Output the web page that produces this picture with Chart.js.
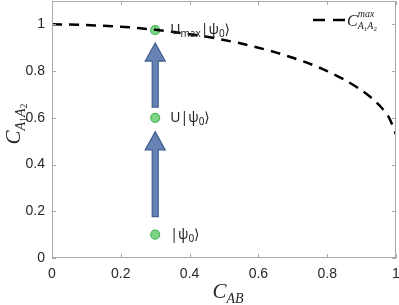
<!DOCTYPE html>
<html>
<head>
<meta charset="utf-8">
<script src="https://cdn.jsdelivr.net/npm/chart.js@4.4.0/dist/chart.umd.min.js"></script>
<style>
  html, body { margin: 0; padding: 0; background: #fff; }
  #wrap { width: 399px; height: 305px; }
</style>
</head>
<body>
<div id="wrap"><canvas id="chart"></canvas></div>
<script>
'use strict';

// dashed curve C_A1A2^max against C_AB
const curveX = [0, 0.05, 0.1, 0.15, 0.2, 0.25, 0.3, 0.35, 0.4, 0.45, 0.5, 0.55, 0.6, 0.65, 0.7, 0.75, 0.8, 0.85, 0.9, 0.93, 0.96, 0.98, 1.0];
const curveY = [1.0, 0.999, 0.997, 0.994, 0.99, 0.984, 0.977, 0.968, 0.958, 0.947, 0.933, 0.918, 0.9, 0.88, 0.857, 0.831, 0.8, 0.763, 0.718, 0.684, 0.64, 0.6, 0.53];

// the three states
const stateX = [0.3, 0.3, 0.3];
const stateY = [0.1, 0.6, 0.975];
const stateLabels = ['|ψ_{0}⟩', 'U|ψ_{0}⟩', 'U_{max}|ψ_{0}⟩'];

// arrows between states
const arrowX = [0.3, 0.3];
const arrowFrom = [0.177, 0.646];
const arrowTo = [0.54, 0.92];

const xTicks = [0, 0.2, 0.4, 0.6, 0.8, 1];
const yTicks = [0, 0.2, 0.4, 0.6, 0.8, 1];

const textColor = '#262626';
const boxColor = '#a8a8a8';
const serif = '"Liberation Serif", "DejaVu Serif", serif';
const sans = '"Noto Sans", "DejaVu Sans", sans-serif';

let canvasElem = document.getElementById('chart');

// draw pieces [text, size, shift, italic]; returns width
function drawPieces(ctx, pieces, x, y, family, measureOnly) {
  let cx = x;
  for (const p of pieces) {
    ctx.font = (p[3] ? 'italic ' : '') + p[1] + 'px ' + family;
    if (!measureOnly) ctx.fillText(p[0], cx, y + p[2]);
    cx += ctx.measureText(p[0]).width;
  }
  return cx - x;
}

// '|ψ_{0}⟩' -> pieces
function labelPieces(str) {
  const out = [];
  const parts = str.split(/(_\{[^}]*\})/);
  for (const s of parts) {
    if (!s) continue;
    if (s.startsWith('_{')) out.push([s.slice(2, -1), 10, 3, false]);
    else out.push([s, 14, 0, false]);
  }
  return out;
}

function noPad(s) {
  s.paddingLeft = 0; s.paddingRight = 0; s.paddingTop = 0; s.paddingBottom = 0;
}

const framePlugin = {
  id: 'frame',
  beforeDatasetsDraw(chart) {
    const ctx = chart.ctx;
    const xs = chart.scales.x;
    const ys = chart.scales.y;
    ctx.save();
    // arrows
    for (let i = 0; i < arrowX.length; i++) {
      const px = xs.getPixelForValue(arrowX[i]);
      const y0 = ys.getPixelForValue(arrowFrom[i]);
      const y1 = ys.getPixelForValue(arrowTo[i]);
      const headH = 18, headW = 10, shaftW = 3;
      ctx.beginPath();
      ctx.moveTo(px - shaftW, y0);
      ctx.lineTo(px - shaftW, y1 + headH);
      ctx.lineTo(px - headW, y1 + headH);
      ctx.lineTo(px, y1);
      ctx.lineTo(px + headW, y1 + headH);
      ctx.lineTo(px + shaftW, y1 + headH);
      ctx.lineTo(px + shaftW, y0);
      ctx.closePath();
      ctx.fillStyle = '#6683b3';
      ctx.strokeStyle = '#3f5d8f';
      ctx.lineWidth = 1.2;
      ctx.fill();
      ctx.stroke();
    }
    ctx.restore();
  },
  afterDraw(chart) {
    const ctx = chart.ctx;
    const a = chart.chartArea;
    const xs = chart.scales.x;
    const ys = chart.scales.y;
    ctx.save();
    // box and inward ticks
    ctx.strokeStyle = boxColor;
    ctx.lineWidth = 1;
    ctx.strokeRect(a.left + 0.5, a.top + 0.5, a.right - a.left - 1, a.bottom - a.top - 1);
    ctx.beginPath();
    for (const v of xTicks) {
      const p = Math.round(xs.getPixelForValue(v)) + 0.5;
      ctx.moveTo(p, a.bottom); ctx.lineTo(p, a.bottom - 4);
      ctx.moveTo(p, a.top); ctx.lineTo(p, a.top + 4);
    }
    for (const v of yTicks) {
      const p = Math.round(ys.getPixelForValue(v)) + 0.5;
      ctx.moveTo(a.left, p); ctx.lineTo(a.left + 4, p);
      ctx.moveTo(a.right, p); ctx.lineTo(a.right - 4, p);
    }
    ctx.stroke();

    ctx.fillStyle = textColor;
    ctx.textBaseline = 'alphabetic';
    ctx.textAlign = 'left';

    // state labels
    for (let i = 0; i < stateX.length; i++) {
      const px = xs.getPixelForValue(stateX[i]);
      const py = ys.getPixelForValue(stateY[i]);
      drawPieces(ctx, labelPieces(stateLabels[i]), px + 15, py + 4, sans);
    }

    // x axis title
    const xt = [['C', 21, 0, true], ['AB', 14, 5, true]];
    const xw = drawPieces(ctx, xt, 0, 0, serif, true);
    drawPieces(ctx, xt, (a.left + a.right) / 2 + 4 - xw / 2, 298, serif);

    // y axis title
    const yt = [['C', 21, 0, true], ['A', 14, 5, true], ['1', 10, 7, false], ['A', 14, 5, true], ['2', 10, 7, false]];
    const yw = drawPieces(ctx, yt, 0, 0, serif, true);
    ctx.save();
    ctx.translate(20, 124);
    ctx.rotate(-Math.PI / 2);
    drawPieces(ctx, yt, -yw / 2, 0, serif);
    ctx.restore();

    // legend
    ctx.strokeStyle = '#000';
    ctx.lineWidth = 2.5;
    ctx.setLineDash([12, 8]);
    ctx.beginPath();
    ctx.moveTo(313, 20); ctx.lineTo(345, 20);
    ctx.stroke();
    ctx.setLineDash([]);
    const lx = 347;
    const cw = drawPieces(ctx, [['C', 16, 0, true]], lx, 26, serif);
    drawPieces(ctx, [['max', 10, 0, true]], lx + cw, 17, serif);
    drawPieces(ctx, [['A', 10, 0, true], ['1', 7, 2, false], ['A', 10, 0, true], ['2', 7, 2, false]], lx + cw, 29, serif);
    ctx.restore();
  }
};

function fmt(v) {
  return String(Number(v.toFixed(1)));
}

function renderChart() {
  const data = {
    datasets: [
      {
        label: 'C max',
        data: curveX.map((x, i) => ({ x: x, y: curveY[i] })),
        showLine: true,
        borderColor: '#000',
        borderWidth: 2.5,
        borderDash: [10, 7],
        pointRadius: 0,
        tension: 0.3,
        fill: false
      },
      {
        label: 'states',
        data: stateX.map((x, i) => ({ x: x, y: stateY[i] })),
        pointRadius: 4.5,
        pointBackgroundColor: 'rgba(102, 204, 112, 0.85)',
        pointBorderColor: '#4fb55c',
        pointBorderWidth: 1.2
      }
    ]
  };
  let config = {
    type: 'scatter',
    data: data,
    options: {
      responsive: true,
      maintainAspectRatio: false,
      animation: false,
      layout: { autoPadding: false, padding: { top: 1, right: 3, left: 0, bottom: 0 } },
      plugins: { legend: { display: false }, tooltip: { enabled: false } },
      scales: {
        x: {
          type: 'linear',
          min: 0,
          max: 1,
          afterBuildTicks: (s) => { s.ticks = xTicks.map(v => ({ value: v })); },
          afterFit: (s) => { s.height = 47; noPad(s); },
          grid: { display: false, drawTicks: false },
          border: { display: false },
          ticks: { padding: 8, color: textColor, font: { family: 'Liberation Sans', size: 14 }, maxRotation: 0, callback: fmt }
        },
        y: {
          type: 'linear',
          min: 0,
          max: 1.1,
          afterBuildTicks: (s) => { s.ticks = yTicks.map(v => ({ value: v })); },
          afterFit: (s) => { s.width = 52; noPad(s); },
          grid: { display: false, drawTicks: false },
          border: { display: false },
          ticks: { padding: 7, color: textColor, font: { family: 'Liberation Sans', size: 14 }, callback: fmt }
        }
      }
    },
    plugins: [framePlugin]
  };
  let myChart = new Chart(canvasElem, config);
}

renderChart();
</script>
</body>
</html>
